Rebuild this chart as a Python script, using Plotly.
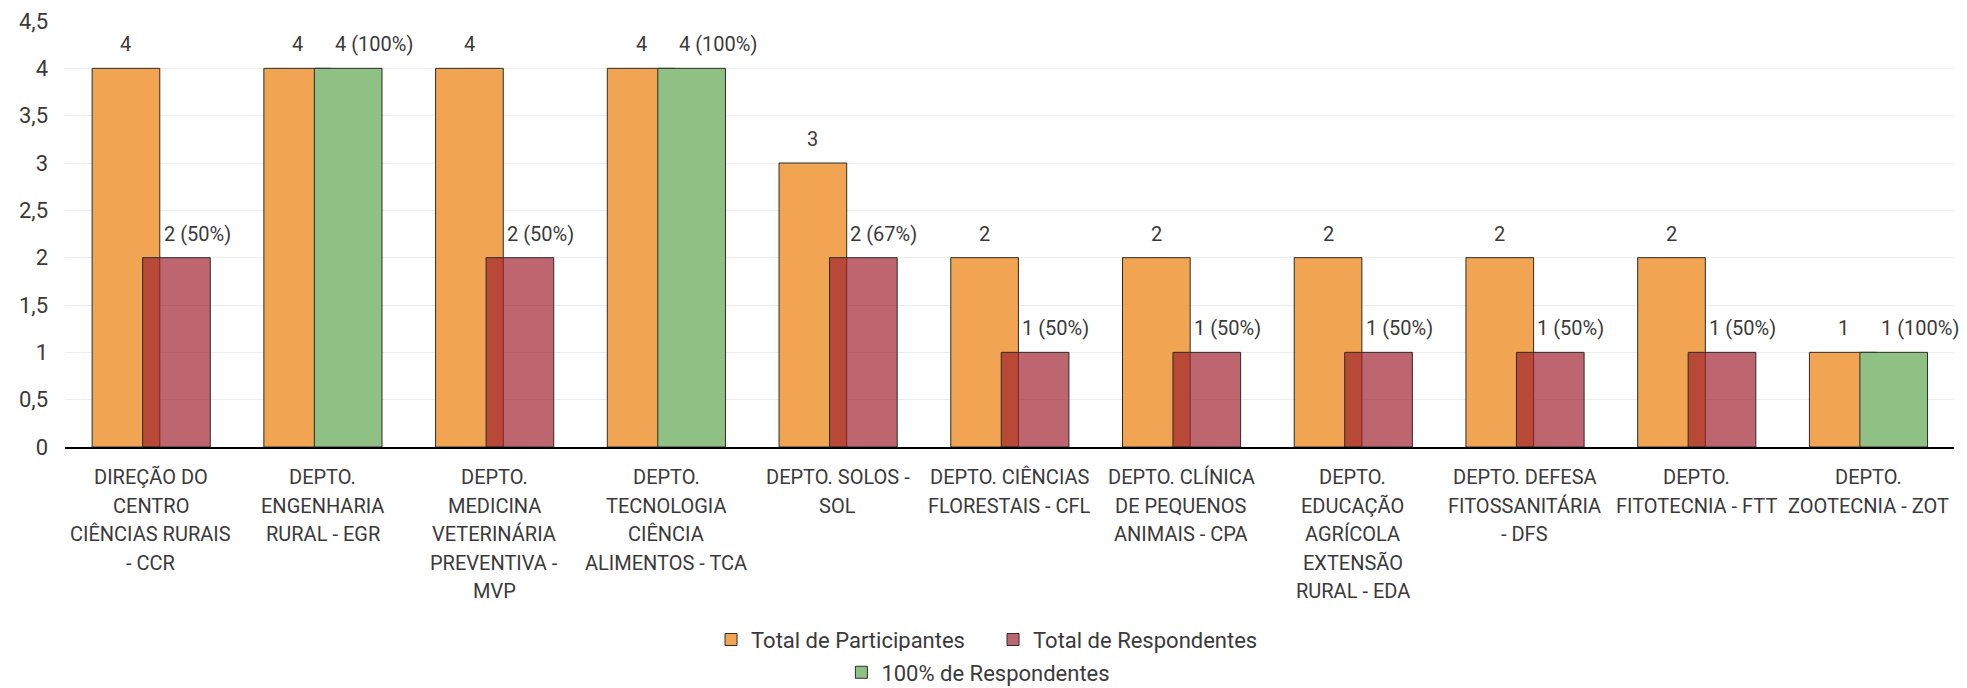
import plotly.graph_objects as go

departamentos = [
    "DIREÇÃO DO<br>CENTRO<br>CIÊNCIAS RURAIS<br>- CCR",
    "DEPTO.<br>ENGENHARIA<br>RURAL - EGR",
    "DEPTO.<br>MEDICINA<br>VETERINÁRIA<br>PREVENTIVA -<br>MVP",
    "DEPTO.<br>TECNOLOGIA<br>CIÊNCIA<br>ALIMENTOS - TCA",
    "DEPTO. SOLOS -<br>SOL",
    "DEPTO. CIÊNCIAS<br>FLORESTAIS - CFL",
    "DEPTO. CLÍNICA<br>DE PEQUENOS<br>ANIMAIS - CPA",
    "DEPTO.<br>EDUCAÇÃO<br>AGRÍCOLA<br>EXTENSÃO<br>RURAL - EDA",
    "DEPTO. DEFESA<br>FITOSSANITÁRIA<br>- DFS",
    "DEPTO.<br>FITOTECNIA - FTT",
    "DEPTO.<br>ZOOTECNIA - ZOT",
]
participantes = [4, 4, 4, 4, 3, 2, 2, 2, 2, 2, 1]
respondentes = [2, 4, 2, 4, 2, 1, 1, 1, 1, 1, 1]

ORANGE = "#f1a552"
RED = "rgba(158,30,43,0.68)"
GREEN = "#8fc184"
EDGE = "#2b2b2b"
TXT = "#3a3a3a"
FONT = "Roboto, sans-serif"

BAR_W = 0.394
OFF_PART = -0.342   # orange bar left edge, relative to category centre
OFF_RESP = -0.048   # second bar left edge (overlaps orange)

idx = list(range(len(departamentos)))
completo = [r == p for r, p in zip(respondentes, participantes)]
resp_parcial = [None if c else r for r, c in zip(respondentes, completo)]
resp_total = [r if c else None for r, c in zip(respondentes, completo)]

fig = go.Figure()
fig.add_bar(x=idx, y=participantes, width=BAR_W, offset=OFF_PART,
            marker=dict(color=ORANGE, line=dict(color=EDGE, width=1)),
            name="Total de Participantes", legend="legend")
fig.add_bar(x=idx, y=resp_parcial, width=BAR_W, offset=OFF_RESP,
            marker=dict(color=RED, line=dict(color=EDGE, width=1)),
            name="Total de Respondentes", legend="legend")
fig.add_bar(x=idx, y=resp_total, width=BAR_W, offset=OFF_RESP,
            marker=dict(color=GREEN, line=dict(color=EDGE, width=1)),
            name="100% de Respondentes", legend="legend2")

# data labels
lbl_font = dict(size=20, color=TXT, family=FONT)
for i, (p, r) in enumerate(zip(participantes, respondentes)):
    fig.add_annotation(x=i + OFF_PART + BAR_W / 2, y=p, text=str(p), showarrow=False,
                       yanchor="bottom", yshift=10, font=lbl_font)
    fig.add_annotation(x=i + OFF_RESP + 0.11, y=r, text=f"{r} ({round(100 * r / p)}%)",
                       showarrow=False, xanchor="left", yanchor="bottom", yshift=10,
                       font=lbl_font)

# category labels, one line at a time (taller line spacing than tick labels allow)
for i, nome in enumerate(departamentos):
    for j, linha in enumerate(nome.split("<br>")):
        fig.add_annotation(x=i, y=0, yref="paper", text=linha, showarrow=False,
                           yanchor="middle", yshift=-(30 + 28.5 * j),
                           font=dict(size=20, color=TXT, family=FONT))

fig.update_xaxes(range=[-0.5, len(departamentos) - 0.5], tickvals=idx, showticklabels=False,
                 showline=True, linecolor="black", linewidth=2, showgrid=False)
fig.update_yaxes(range=[0, 4.5], dtick=0.5, showgrid=True, gridcolor="#ededed", gridwidth=1,
                 zeroline=False, tickfont=dict(size=22, color=TXT), ticklabelstandoff=16)

# the page body adds an 8px offset, so the figure is 8px smaller than the window
fig.update_layout(
    width=1959, height=680,
    barmode="overlay",
    separators=",.",
    font=dict(family=FONT, color=TXT),
    plot_bgcolor="white", paper_bgcolor="white",
    margin=dict(l=57, r=13, t=13, b=241, autoexpand=False),
    legend=dict(orientation="h", x=0.342, xanchor="left", y=-0.403, yanchor="top",
                font=dict(size=22, color=TXT), entrywidth=237),
    legend2=dict(orientation="h", x=0.411, xanchor="left", y=-0.48, yanchor="top",
                 font=dict(size=22, color=TXT)),
)

fig.write_html("out.html")
